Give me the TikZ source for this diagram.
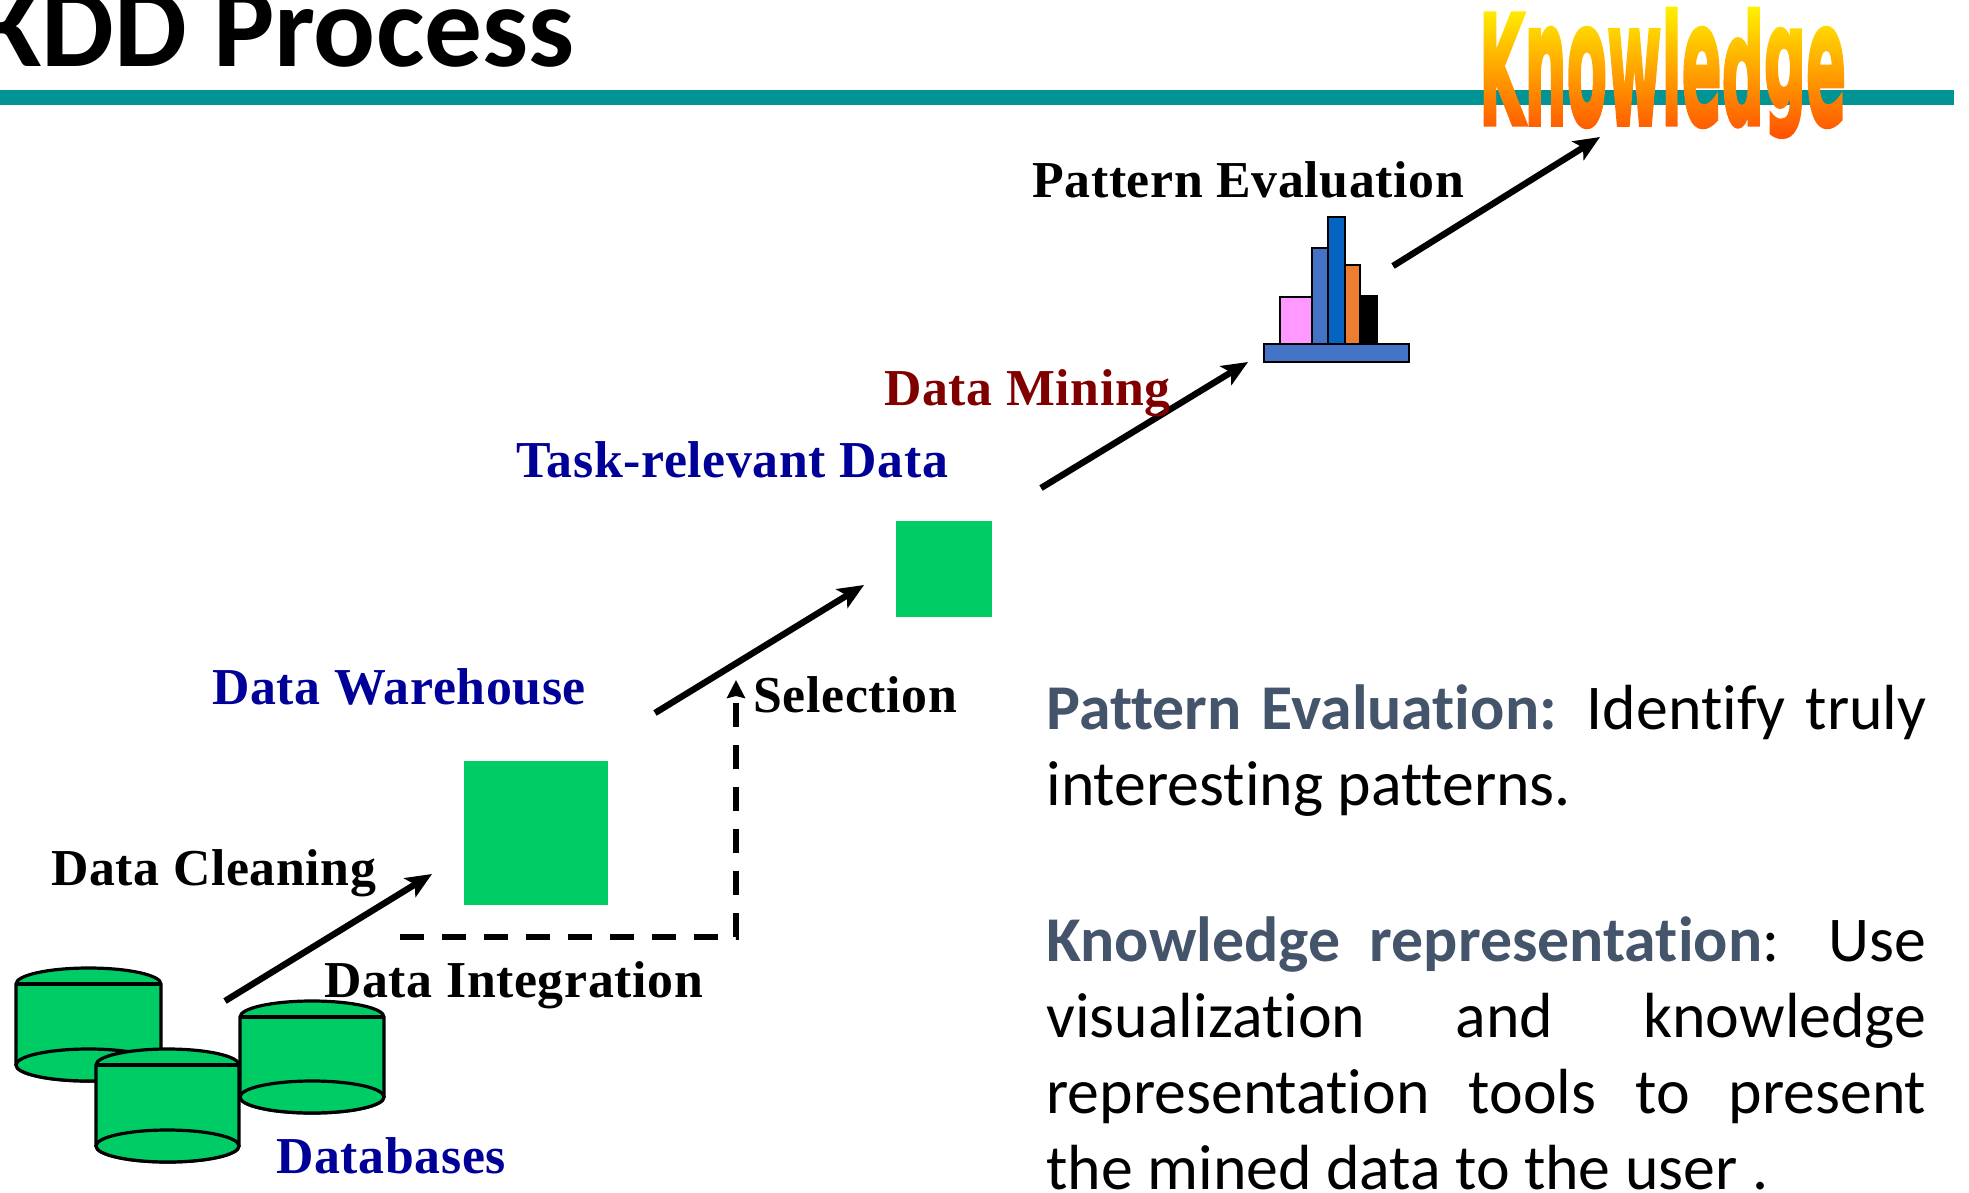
\documentclass[tikz,border=0pt]{standalone}
\usepackage{fontspec}
\setmainfont{Liberation Serif}[LetterSpace=1.2]
\newfontfamily\calfont[Ligatures=NoCommon]{Carlito}
\newfontfamily\knowfont[FakeBold=3]{DejaVu Sans Bold}
\usetikzlibrary{arrows.meta,fadings}
\definecolor{teal1}{HTML}{009494}
\definecolor{green1}{HTML}{00CC66}
\definecolor{blue1}{HTML}{000099}
\definecolor{red1}{HTML}{800000}
\definecolor{slate1}{HTML}{44546A}
\definecolor{barpink}{HTML}{FF99FF}
\definecolor{barblue}{HTML}{4472C4}
\definecolor{bardeep}{HTML}{0563C1}
\definecolor{barorange}{HTML}{ED7D31}
\newcommand{\xh}[1]{\scalebox{1}[1.13]{#1}}
\newcommand{\lowg}{\raisebox{8.5pt}{\scalebox{1}[0.92]{g}}}
\begin{tikzfadingfrompicture}[name=knowfade]
  \node[text=transparent!0,inner sep=2pt] (fadetext) at (0,0)
    {\resizebox*{183.5pt}{64pt}{\fontsize{74}{80}\knowfont K\xh{n}\xh{o}\xh{w}l\xh{e}d\lowg\xh{e}}};
\end{tikzfadingfrompicture}
\tikzset{
  lbl/.style={anchor=base west,inner sep=0pt,font=\bfseries\fontsize{25.9}{30}\selectfont},
  storelbl/.style={lbl,text=blue1},
  flow/.style={line width=3.2pt,-{Stealth[length=13pt,width=11pt,inset=3pt]}},
  dashflow/.style={line width=3pt,dash pattern=on 12pt off 9pt,-{Stealth[length=9pt,width=9pt,inset=1pt]}},
  store/.style={fill=green1,inner sep=0pt},
  cyl/.style={draw=black,fill=green1,line width=1.6pt},
  bar/.style={draw=black,line width=1.4pt},
  body/.style={anchor=base west,inner sep=0pt,text width=440pt,align=justify,
     font=\calfont\fontsize{31.9}{38}\selectfont},
}
\newcommand{\dbcyl}[4]{% x1 x2 ytop ybot
  \pgfmathsetmacro{\rxx}{(#2-#1)/2}
  \path[cyl] (#1,#4) -- (#1,#3) arc[start angle=180,end angle=360,x radius=\rxx,y radius=16] -- (#2,#4)
     arc[start angle=0,end angle=180,x radius=\rxx,y radius=16] -- cycle;
  \draw[cyl] (#1,#3) -- (#2,#3);
  \draw[cyl] ({(#1+#2)/2},#4) ellipse[x radius=\rxx,y radius=16];
}
\begin{document}
\begin{tikzpicture}[x=0.5pt,y=-0.5pt]
\path[use as bounding box] (0,0) rectangle (1969,1193);
\clip (0,0) rectangle (1969,1193);
\fill[white] (0,0) rectangle (1969,1193);
% title and rule
\node[anchor=base west,inner sep=0pt,font=\calfont\bfseries\fontsize{57.7}{60}\selectfont] (title) at (-22,67) {KDD Process};
\fill[teal1] (0,90) rectangle (1954,105);
% Knowledge word
\shade[path fading=knowfade,fit fading=false,fading transform={shift={(1662.5,73)}},
  top color=yellow!90!orange,bottom color=orange!60!red] (1475,5) rectangle (1850,141);
% databases
\dbcyl{16}{161}{984}{1065}
\dbcyl{240}{384}{1017}{1097}
\dbcyl{96}{239}{1065}{1146}
% stores
\node[store,minimum width=72pt,minimum height=72pt] (warehouse) at (536,833) {};
\node[store,minimum width=48pt,minimum height=48pt] (taskdata) at (944,569) {};
% chart
\filldraw[bar,fill=black] (1360,296) rectangle (1377,344);
\filldraw[bar,fill=barorange] (1345,265) rectangle (1360,344);
\filldraw[bar,fill=bardeep] (1328,217) rectangle (1345,344);
\filldraw[bar,fill=barblue] (1312,248) rectangle (1328,344);
\filldraw[bar,fill=barpink] (1280,297) rectangle (1312,344);
\filldraw[bar,fill=barblue] (1264,344) rectangle (1409,362);
% arrows
\coordinate (a1s) at (225,1001); \coordinate (a1e) at (432,874);
\coordinate (a2s) at (655,713); \coordinate (a2e) at (864,585);
\coordinate (a3s) at (1041,488); \coordinate (a3e) at (1248,362);
\coordinate (a4s) at (1393,266); \coordinate (a4e) at (1600,137);
\coordinate (ds) at (400,937); \coordinate (dm) at (736,937); \coordinate (de) at (736,680);
\draw[flow] (a1s) -- (a1e);
\draw[flow] (a2s) -- (a2e);
\draw[flow] (a3s) -- (a3e);
\draw[flow] (a4s) -- (a4e);
\draw[dashflow] (ds) -- (dm) -- (de);
% labels
\node[lbl] (lpe) at (1032,197) {Pattern Evaluation};
\node[lbl,text=red1] (ldm) at (884,405) {Data Mining};
\node[storelbl] (ltd) at (516,477) {Task-relevant Data};
\node[storelbl] (ldw) at (212,704) {Data Warehouse};
\node[lbl] (lsel) at (753,712) {Selection};
\node[lbl] (ldc) at (51,885) {Data Cleaning};
\node[lbl] (ldi) at (324,997) {Data Integration};
\node[storelbl] (ldb) at (276,1173) {Databases};
% body text
\node[body] (para1) at (1046,729) {{\bfseries\color{slate1}Pattern Evaluation:} Identify truly\linebreak interesting patterns.};
\node[body] (para2) at (1046,961) {{\bfseries\color{slate1}Knowledge representation}: Use\linebreak visualization and knowledge\linebreak representation tools to present\linebreak the mined data to the user .};
\end{tikzpicture}
\end{document}
